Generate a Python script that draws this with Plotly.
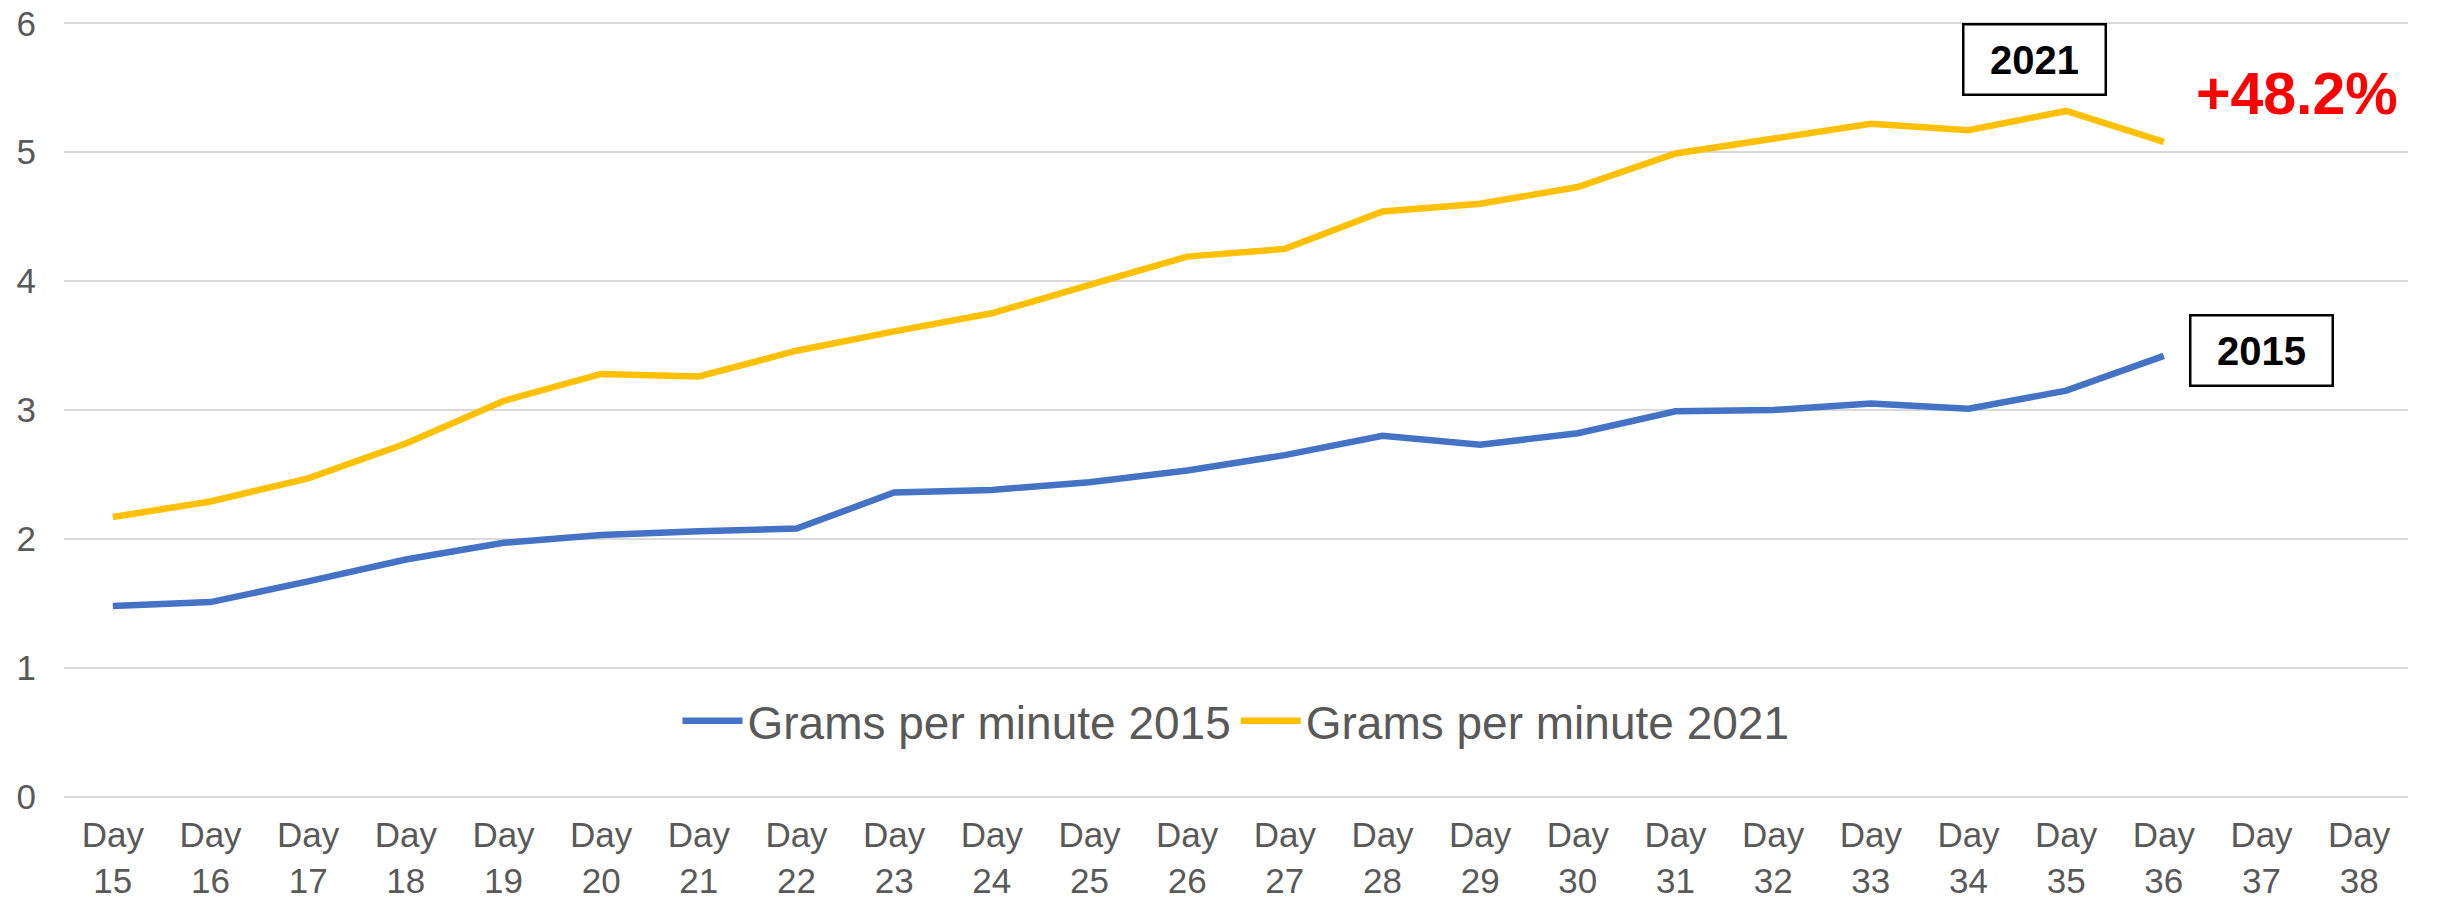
import plotly.graph_objects as go

days = ["Day<br>%d" % d for d in range(15, 39)]

# grams per minute (days 37-38 have no data)
grams_2015 = [1.48, 1.51, 1.67, 1.84, 1.97, 2.03, 2.06, 2.08, 2.36, 2.38, 2.44, 2.53,
              2.65, 2.80, 2.73, 2.82, 2.99, 3.00, 3.05, 3.01, 3.15, 3.42, None, None]
grams_2021 = [2.17, 2.29, 2.47, 2.74, 3.07, 3.28, 3.26, 3.46, 3.61, 3.75, 3.97, 4.19,
              4.25, 4.54, 4.60, 4.73, 4.99, 5.10, 5.22, 5.17, 5.32, 5.08, None, None]

font = "Arial, Liberation Sans, sans-serif"
grey = "#595959"

fig = go.Figure()
fig.add_trace(go.Scatter(x=days, y=grams_2015, mode="lines", name="Grams per minute 2015",
                         line=dict(color="#4472C4", width=6.5)))
fig.add_trace(go.Scatter(x=days, y=grams_2021, mode="lines", name="Grams per minute 2021",
                         line=dict(color="#FFC000", width=6.5)))

box = dict(font=dict(family=font, size=40, color="black"), showarrow=False,
           bordercolor="black", borderwidth=2.5, width=138, height=66, bgcolor="white")
fig.add_annotation(x=19.68, y=5.72, text="<b>2021</b>", **box)
fig.add_annotation(x=22.0, y=3.46, text="<b>2015</b>", **box)
fig.add_annotation(x=22.36, y=5.45, text="<b>+48.2%</b>", showarrow=False,
                   font=dict(family=font, size=59, color="#FF0000"))

# the page body has an 8px margin, so the figure is sized to fit inside the window
fig.update_layout(
    width=2437, height=891,
    margin=dict(l=56, r=37, t=13.7, b=100.7),
    plot_bgcolor="white", paper_bgcolor="white",
    font=dict(family=font, color=grey, size=35),
    showlegend=True,
    legend=dict(orientation="h", x=0.5, xanchor="center", y=0.0995, yanchor="middle",
                font=dict(size=46, color=grey), bgcolor="rgba(0,0,0,0)",
                itemwidth=60, tracegroupgap=0),
    xaxis=dict(type="category", range=[-0.5, 23.5], showgrid=False, zeroline=False,
               showline=False, tickfont=dict(size=35, color=grey), ticks="",
               automargin=False, ticklabelstandoff=13, ticklabeloverflow="allow"),
    yaxis=dict(range=[-0.01, 6.01], tickvals=[0, 1, 2, 3, 4, 5, 6], showgrid=True,
               gridcolor="#D9D9D9", gridwidth=2, zeroline=False, showline=False,
               tickfont=dict(size=35, color=grey), ticklabelstandoff=27,
               automargin=False, ticklabeloverflow="allow"),
)

fig.write_html("out.html")
